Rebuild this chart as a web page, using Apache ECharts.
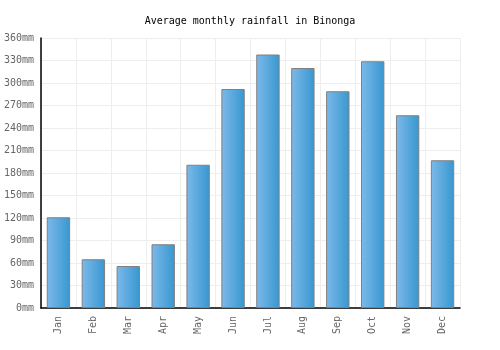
<!DOCTYPE html>
<html>
<head>
<meta charset="utf-8">
<script src="https://cdn.jsdelivr.net/npm/echarts@6/dist/echarts.min.js"></script>
<style>
  html, body { margin: 0; padding: 0; background: #fff; }
  #main { width: 500px; height: 350px; }
</style>
</head>
<body>
<div id="main"></div>
<script>
// monthly rainfall, mm
var months = ['Jan','Feb','Mar','Apr','May','Jun','Jul','Aug','Sep','Oct','Nov','Dec'];
var rainfall = [121, 65, 56, 85, 191, 292, 338, 320, 289, 329, 257, 197];

var chart = echarts.init(document.getElementById('main'));
var font = 'DejaVu Sans Mono';

chart.setOption({
    animation: false,
    title: {
        text: 'Average monthly rainfall in Binonga',
        left: 'center',
        top: 11,
        textStyle: { fontFamily: font, fontSize: 10, fontWeight: 'normal', color: '#000' }
    },
    grid: { left: 41, right: 40, top: 38, bottom: 42 },
    xAxis: {
        type: 'category',
        data: months,
        axisLine: { lineStyle: { color: '#000', width: 1.5 } },
        axisTick: { show: false },
        axisLabel: { rotate: 90, color: '#666', fontFamily: font, fontSize: 10, margin: 8 },
        splitLine: { show: true, lineStyle: { color: '#eee' } }
    },
    yAxis: {
        type: 'value',
        min: 0,
        max: 360,
        interval: 30,
        axisLine: { show: true, lineStyle: { color: '#000', width: 1.5 } },
        axisTick: { show: false },
        axisLabel: { formatter: '{value}mm', color: '#666', fontFamily: font, fontSize: 10, margin: 7 },
        splitLine: { lineStyle: { color: '#eee' } }
    },
    series: [{
        type: 'bar',
        data: rainfall,
        barWidth: '67%',
        itemStyle: {
            color: new echarts.graphic.LinearGradient(0, 0, 1, 0, [
                { offset: 0, color: '#7db9ea' },
                { offset: 1, color: '#3797cf' }
            ]),
            borderColor: '#808080',
            borderWidth: 1
        }
    }]
});
</script>
</body>
</html>
